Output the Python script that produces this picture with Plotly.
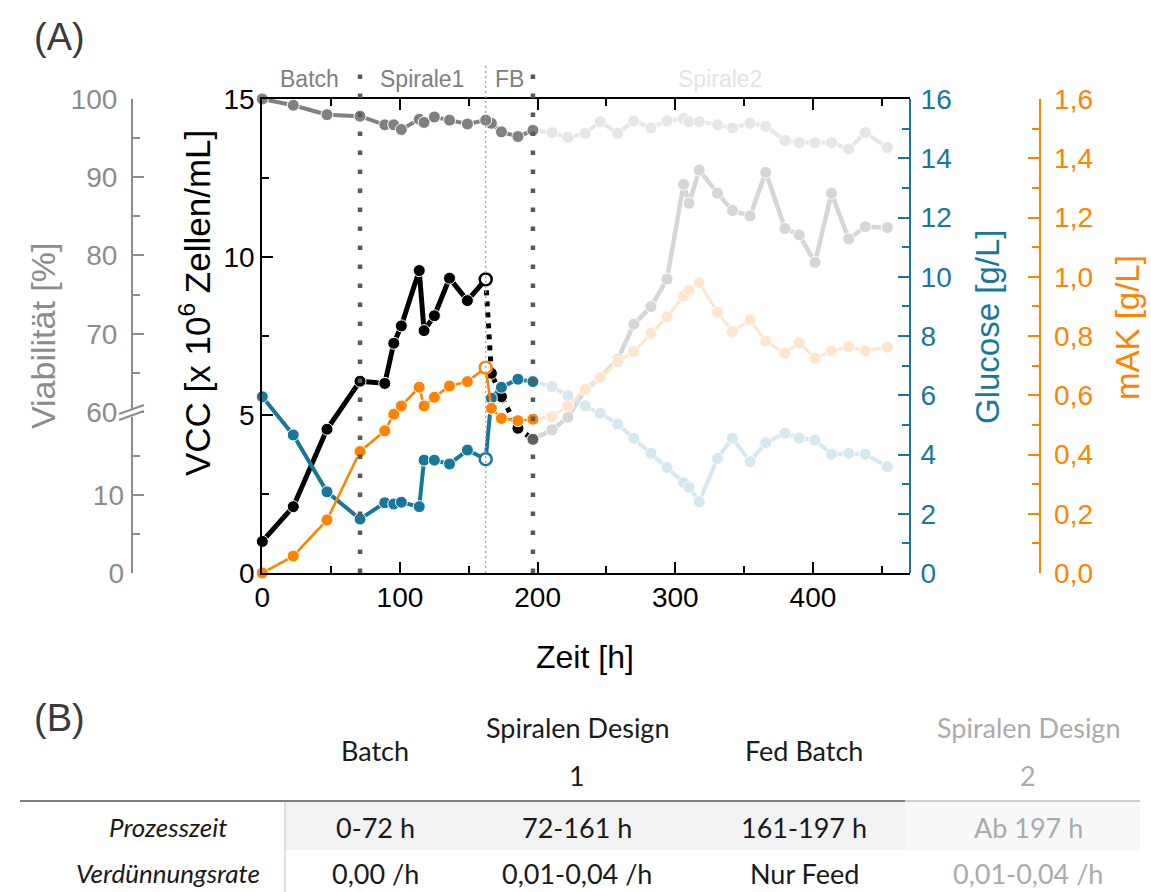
import plotly.graph_objects as go

# ---------------- data ----------------
# sampling times [h] per process phase
t_phase1 = [0, 22.5, 47, 71, 89, 95.5, 101, 114, 117.5, 125, 136, 149, 162.3]
t_fb = [166.4, 173.7, 185.7, 196.6]
t_sp2 = [210.5, 222, 234.6, 245.4, 258.2, 269.8, 282.4, 294, 306, 310, 317.4,
         330.7, 341.5, 354.3, 365.7, 379.7, 390, 401.5, 413.5, 426, 438, 454]

# viability [%]
via_phase1 = [100, 99.2, 98.0, 97.8, 96.7, 96.7, 96.1, 97.4, 97.0, 97.7, 97.3, 96.8, 97.3]
via_fb = [96.9, 95.8, 95.2, 96.0]
via_sp2 = [95.7, 95.1, 95.6, 97.1, 95.6, 97.2, 96.3, 97.2, 97.5, 97.1, 97.1,
           96.7, 96.3, 96.9, 96.5, 94.7, 94.4, 94.4, 94.4, 93.6, 95.7, 93.8]

# viable cell concentration [x 10^6 cells/mL]
vcc_phase1 = [1.0, 2.1, 4.55, 6.07, 6.0, 7.27, 7.82, 9.57, 7.67, 8.14, 9.33, 8.62, 9.29]
vcc_fb = [6.32, 5.58, 4.58, 4.23]
vcc_sp2 = [4.53, 4.93, 5.81, 6.18, 6.76, 7.87, 8.43, 9.30, 12.3, 11.7, 12.75,
           12.02, 11.47, 11.3, 12.68, 10.9, 10.7, 9.83, 12.02, 10.57, 10.96, 10.93]

# glucose [g/L]
glc_phase1 = [5.95, 4.66, 2.74, 1.82, 2.37, 2.33, 2.39, 2.24, 3.81, 3.81, 3.68, 4.15, 3.84]
glc_fb = [5.9, 6.27, 6.54, 6.46]
glc_sp2 = [6.29, 5.99, 5.64, 5.39, 5.03, 4.55, 4.04, 3.56, 3.05, 2.89, 2.41,
           3.87, 4.55, 3.76, 4.4, 4.72, 4.55, 4.49, 4.01, 4.04, 4.01, 3.59]

# antibody titre [g/L]
mak_phase1 = [0.0, 0.057, 0.179, 0.41, 0.48, 0.536, 0.564, 0.627, 0.564, 0.593, 0.631, 0.646, 0.693]
mak_fb = [0.556, 0.522, 0.514, 0.519]
mak_sp2 = [0.528, 0.564, 0.62, 0.66, 0.713, 0.747, 0.809, 0.865, 0.935, 0.955, 0.98,
           0.88, 0.815, 0.854, 0.783, 0.742, 0.777, 0.725, 0.749, 0.764, 0.75, 0.762]

# phase boundaries [h]
phase_edges = [71, 162.3, 196.6]
phase_labels = ["Batch", "Spirale1", "FB", "Spirale2"]

# axis ticks
vcc_ticks = [0, 5, 10, 15]
glc_ticks = [0, 2, 4, 6, 8, 10, 12, 14, 16]
mak_ticks = [0.0, 0.2, 0.4, 0.6, 0.8, 1.0, 1.2, 1.4, 1.6]
mak_ticktext = ["0,0", "0,2", "0,4", "0,6", "0,8", "1,0", "1,2", "1,4", "1,6"]
via_ticks_upper = [60, 70, 80, 90, 100]
via_ticks_lower = [0, 10]
time_ticks = [0, 100, 200, 300, 400]

# process table
table_columns = [("Batch", ""), ("Spiralen Design", "1"), ("Fed Batch", ""), ("Spiralen Design", "2")]
table_rows = ["Prozesszeit", "Verdünnungsrate"]
table_cells = [["0-72 h", "72-161 h", "161-197 h", "Ab 197 h"],
               ["0,00 /h", "0,01-0,04 /h", "Nur Feed", "0,01-0,04 /h"]]

# ---------------- styling ----------------
W, H = 1151, 892
def px(x):
    return x / W
def py(y):
    return 1 - y / H

C_VIA, C_VIA2 = "#808080", "#e6e6e6"
C_VCC, C_VCC2 = "#000000", "#d6d6d6"
C_GLC, C_GLC2 = "#17789c", "#d6e8ef"
C_MAK, C_MAK2 = "#ff8300", "#fee5cc"
C_AXV = "#8c8c8c"
CHART_FONT = "Liberation Sans, Arial, sans-serif"
TABLE_FONT = "Lato, sans-serif"

fig = go.Figure()

def series(x, y, axis, color, width, size=12, dash="solid", mcolor=None,
           lcolor="white", lwidth=1):
    fig.add_trace(go.Scatter(
        x=x, y=y, yaxis=axis, mode="lines+markers",
        line=dict(color=color, width=width, dash=dash),
        marker=dict(size=size, color=mcolor if mcolor is not None else color,
                    line=dict(color=lcolor, width=lwidth)),
        cliponaxis=False, showlegend=False, hoverinfo="skip"))

# Spirale2 phase (faded), starting at the end of the fed batch
x2 = t_fb[-1:] + t_sp2
series(x2, via_fb[-1:] + via_sp2, "y4", C_VIA2, 4)
series(x2, vcc_fb[-1:] + vcc_sp2, "y", C_VCC2, 4.5)
series(x2, glc_fb[-1:] + glc_sp2, "y2", C_GLC2, 4)
series(x2, mak_fb[-1:] + mak_sp2, "y3", C_MAK2, 3)

# fed batch phase
xf = t_phase1[-1:] + t_fb
series(xf, via_phase1[-1:] + via_fb, "y4", C_VIA, 4)
series(xf, vcc_phase1[-1:] + vcc_fb, "y", C_VCC, 5, dash="5px,6px",
       mcolor=[C_VCC, C_VCC, C_VCC, C_VCC, "#5e5e5e"])
series(xf, glc_phase1[-1:] + glc_fb, "y2", C_GLC, 4)
series(xf, mak_phase1[-1:] + mak_fb, "y3", C_MAK, 2.6)

# batch + Spirale1 phase; last point before feeding drawn open
def open_last(color, n):
    return ([color] * (n - 1) + ["white"], ["white"] * (n - 1) + [color],
            [1] * (n - 1) + [2.5])

n1 = len(t_phase1)
series(t_phase1, via_phase1, "y4", C_VIA, 4)
for yv, ax, col, wd in [(vcc_phase1, "y", C_VCC, 5), (glc_phase1, "y2", C_GLC, 4),
                        (mak_phase1, "y3", C_MAK, 2.6)]:
    fc, lc, lw = open_last(col, n1)
    series(t_phase1, yv, ax, col, wd, mcolor=fc, lcolor=lc, lwidth=lw)

# lower segment of the broken viability axis carries no points
fig.add_trace(go.Scatter(x=[], y=[], yaxis="y5", showlegend=False, hoverinfo="skip"))

tickfont = dict(family=CHART_FONT, size=28)

fig.update_layout(
    width=W, height=H, autosize=False,
    margin=dict(l=0, r=0, t=0, b=0, pad=0, autoexpand=False),
    paper_bgcolor="white", plot_bgcolor="rgba(0,0,0,0)",
    showlegend=False,
    font=dict(family=CHART_FONT, color="black"),
    xaxis=dict(domain=[px(262.3), px(910)], range=[0, 470.5], anchor="y",
               automargin=False,
               showline=True, linecolor="black", linewidth=2, mirror="ticks",
               ticks="inside", ticklen=11, tickwidth=2, tickcolor="black",
               tickmode="array", tickvals=time_ticks, ticklabelstandoff=-2,
               minor=dict(ticks="inside", ticklen=7, tickwidth=2, tickcolor="black",
                          dtick=50, tick0=0),
               tickfont=dict(tickfont, color="black"),
               showgrid=False, zeroline=False),
    yaxis=dict(domain=[py(573), py(99)], range=[0, 15], anchor="x", side="left",
               automargin=False,
               showline=True, linecolor="black", linewidth=2,
               ticks="inside", ticklen=11, tickwidth=2, tickcolor="black",
               tickmode="array", tickvals=vcc_ticks,
               minor=dict(ticks="inside", ticklen=7, tickwidth=2, tickcolor="black",
                          dtick=2.5, tick0=0),
               tickfont=dict(tickfont, color="black"),
               showgrid=False, zeroline=False),
    yaxis2=dict(overlaying="y", side="right", anchor="free", position=px(910),
                automargin=False,
                range=[0, 16], showline=True, linecolor=C_GLC, linewidth=2,
                ticks="inside", ticklen=11, tickwidth=2, tickcolor=C_GLC,
                tickmode="array", tickvals=glc_ticks, ticklabelstandoff=4,
                minor=dict(ticks="inside", ticklen=7, tickwidth=2, tickcolor=C_GLC,
                           dtick=1, tick0=0),
                tickfont=dict(tickfont, color=C_GLC),
                showgrid=False, zeroline=False),
    yaxis3=dict(overlaying="y", side="right", anchor="free", position=px(1039.5),
                automargin=False,
                range=[0, 1.6], showline=True, linecolor=C_MAK, linewidth=2,
                ticks="inside", ticklen=11, tickwidth=2, tickcolor=C_MAK,
                tickmode="array", tickvals=mak_ticks, ticktext=mak_ticktext,
                ticklabelstandoff=8,
                minor=dict(ticks="inside", ticklen=7, tickwidth=2, tickcolor=C_MAK,
                           dtick=0.1, tick0=0),
                tickfont=dict(tickfont, color=C_MAK),
                showgrid=False, zeroline=False),
    # broken viability axis: upper segment 60-100 %
    yaxis4=dict(overlaying="y", side="left", anchor="free", position=px(132),
                automargin=False,
                range=[39.42, 100], showline=True, linecolor=C_AXV, linewidth=2,
                ticks="inside", ticklen=11, tickwidth=2, tickcolor=C_AXV,
                tickmode="array", tickvals=via_ticks_upper, ticklabelstandoff=8,
                minor=dict(ticks="inside", ticklen=7, tickwidth=2, tickcolor=C_AXV,
                           tickmode="array", tickvals=[65, 75, 85, 95]),
                tickfont=dict(tickfont, color=C_AXV),
                showgrid=False, zeroline=False),
    # lower segment 0-20 %
    yaxis5=dict(overlaying="y", side="left", anchor="free", position=px(132),
                automargin=False,
                range=[0, 60.77], showline=False,
                ticks="inside", ticklen=11, tickwidth=2, tickcolor=C_AXV,
                tickmode="array", tickvals=via_ticks_lower, ticklabelstandoff=8,
                minor=dict(ticks="inside", ticklen=7, tickwidth=2, tickcolor=C_AXV,
                           tickmode="array", tickvals=[5, 15]),
                tickfont=dict(tickfont, color=C_AXV),
                showgrid=False, zeroline=False),
)

shapes = []
# phase boundaries
for i, t in enumerate(phase_edges):
    if i == 1:
        shapes.append(dict(type="line", xref="x", yref="paper", x0=t, x1=t,
                           y0=py(573), y1=py(64), layer="above",
                           line=dict(color="#a8a8a8", width=1.3, dash="2px,3px")))
    else:
        shapes.append(dict(type="line", xref="x", yref="paper", x0=t, x1=t,
                           y0=py(573), y1=py(62), layer="above",
                           line=dict(color="#595959", width=4.5, dash="4.5px,14.5px")))
# axis break marks on viability axis
shapes.append(dict(type="rect", xref="paper", yref="paper", x0=px(125), x1=px(140),
                   y0=py(417), y1=py(409), fillcolor="white", line=dict(width=0),
                   layer="above"))
for dy in (0, 6):
    shapes.append(dict(type="line", xref="paper", yref="paper",
                       x0=px(119), y0=py(414 + dy), x1=px(144), y1=py(405 + dy),
                       line=dict(color=C_AXV, width=2), layer="above"))

# table rules and shading
shapes += [
    dict(type="rect", xref="paper", yref="paper", x0=px(285), x1=px(905),
         y0=py(850), y1=py(802), fillcolor="#f2f2f2", line=dict(width=0), layer="below"),
    dict(type="rect", xref="paper", yref="paper", x0=px(905), x1=px(1140),
         y0=py(850), y1=py(802), fillcolor="#f8f8f8", line=dict(width=0), layer="below"),
    dict(type="line", xref="paper", yref="paper", x0=px(20), x1=px(905),
         y0=py(801), y1=py(801), line=dict(color="#7f7f7f", width=2)),
    dict(type="line", xref="paper", yref="paper", x0=px(905), x1=px(1140),
         y0=py(801), y1=py(801), line=dict(color="#cfcfcf", width=2)),
    dict(type="line", xref="paper", yref="paper", x0=px(285), x1=px(285),
         y0=py(892), y1=py(802), line=dict(color="#c4c4c4", width=1)),
]
fig.update_layout(shapes=shapes)

ann = []
def text(x, y, s, size, color, family=CHART_FONT, angle=0):
    ann.append(dict(x=px(x), y=py(y), xref="paper", yref="paper", text=s,
                    showarrow=False, xanchor="center", yanchor="middle",
                    textangle=angle, font=dict(family=family, size=size, color=color)))

# panel letters
text(60, 37, "(A)", 38, "#3a3a3a")
text(60, 718, "(B)", 38, "#3a3a3a")

# phase names above the plot
for lbl, xc, col in zip(phase_labels, [309, 422, 509, 720],
                        ["#808080", "#808080", "#808080", "#e3e3e3"]):
    text(xc, 79, lbl, 23, col)

# axis titles
text(43, 336, "Viabilität [%]", 34, C_AXV, angle=-90)
text(195, 303, "VCC [x 10<sup>6</sup> Zellen/mL]", 35, "black", angle=-90)
text(987, 327, "Glucose [g/L]", 33, C_GLC, angle=-90)
text(1128, 328, "mAK [g/L]", 33, C_MAK, angle=-90)
text(585, 657, "Zeit [h]", 32, "black")

# table content
col_x = [375, 577, 804, 1028]
col_colors = ["#1a1a1a", "#1a1a1a", "#1a1a1a", "#ababab"]
for (h1, h2), xc, col in zip(table_columns, col_x, col_colors):
    if h2:
        text(xc, 727, h1, 27, col, TABLE_FONT)
        text(xc, 775, h2, 27, col, TABLE_FONT)
    else:
        text(xc, 750, h1, 27, col, TABLE_FONT)
for lbl, yc, row in zip(table_rows, [827, 873], table_cells):
    text(168, yc, "<i>" + lbl + "</i>", 26, "#1a1a1a", TABLE_FONT)
    for val, xc, col in zip(row, col_x, col_colors):
        text(xc, yc, val, 27, col, TABLE_FONT)

fig.update_layout(annotations=ann)

fig.write_html("out.html")
